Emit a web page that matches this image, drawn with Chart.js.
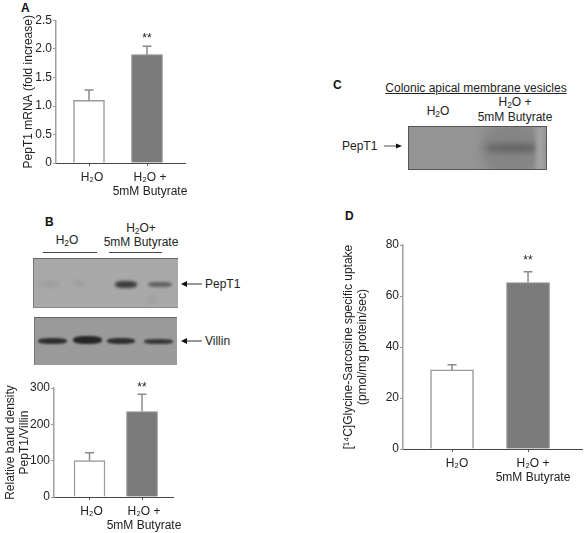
<!DOCTYPE html>
<html>
<head>
<meta charset="utf-8">
<script src="https://cdn.jsdelivr.net/npm/chart.js@4"></script>
<style>
  html, body { margin: 0; background: #fff; }
  body { width: 585px; height: 533px; position: relative; overflow: hidden;
         font-family: "Liberation Sans", Arial, sans-serif; font-size: 12px; color: #222; }
  canvas { position: absolute; }
  .t { position: absolute; white-space: nowrap; line-height: 14px; transform: translate(-50%, -50%); }
  .l { position: absolute; white-space: nowrap; line-height: 14px; transform: translateY(-50%); }
  .panel { position: absolute; font-weight: bold; font-size: 12px; color: #111; line-height: 14px; transform: translateY(-50%); }
  sub { font-size: 8.5px; line-height: 0; vertical-align: -2px; }
  .rule { position: absolute; height: 1px; background: #444; }
  .blot { position: absolute; box-sizing: border-box; overflow: hidden; }
  .band { position: absolute; border-radius: 40%; }
  svg { position: absolute; }
</style>
</head>
<body>

<div class="panel" style="left:21px;top:8px">A</div>
<div class="panel" style="left:45px;top:222px">B</div>
<div class="panel" style="left:333px;top:85px">C</div>
<div class="panel" style="left:345px;top:216px">D</div>

<canvas id="chart-a" style="left:0;top:0"></canvas>
<canvas id="chart-b" style="left:0;top:370px"></canvas>
<canvas id="chart-d" style="left:330px;top:225px"></canvas>

<!-- B: western blots -->
<div class="t" style="left:67px;top:240px">H<sub>2</sub>O</div>
<div class="t" style="left:141px;top:228px">H<sub>2</sub>O+</div>
<div class="t" style="left:141px;top:242px">5mM Butyrate</div>
<div class="rule" style="left:43px;top:252px;width:54px"></div>
<div class="rule" style="left:109px;top:252px;width:53px"></div>

<div class="blot" style="left:33px;top:258px;width:145px;height:50px;background:#a9a9a9;border-top:1px solid #666;border-left:1px solid #777;border-bottom:1px solid #888">
  <div class="band" style="left:5px;top:23px;width:20px;height:4px;background:#979797;filter:blur(2px)"></div>
  <div class="band" style="left:41px;top:22px;width:8px;height:5px;background:#979797;filter:blur(2px)"></div>
  <div class="band" style="left:81px;top:22px;width:22px;height:7px;background:#3d3d3d;filter:blur(1.5px)"></div>
  <div class="band" style="left:114px;top:23px;width:24px;height:5px;background:#5e5e5e;filter:blur(1.5px)"></div>
  <div class="band" style="left:115px;top:36px;width:6px;height:8px;background:#9d9d9d;filter:blur(2px)"></div>
</div>
<div class="blot" style="left:34px;top:317px;width:143px;height:48px;background:#9b9b9b;border-top:1px solid #666;border-left:1px solid #777">
  <div class="band" style="left:3px;top:20px;width:29px;height:6px;background:#2e2e2e;filter:blur(1px)"></div>
  <div class="band" style="left:38px;top:18px;width:29px;height:8px;background:#262626;filter:blur(1px)"></div>
  <div class="band" style="left:72px;top:20px;width:28px;height:6px;background:#2e2e2e;filter:blur(1px)"></div>
  <div class="band" style="left:109px;top:21px;width:29px;height:5px;background:#363636;filter:blur(1px)"></div>
</div>
<svg style="left:180px;top:279px" width="24" height="10"><line x1="6" y1="5" x2="22" y2="5" stroke="#333" stroke-width="1"/><path d="M1 5 L7 2 L7 8 Z" fill="#111"/></svg>
<svg style="left:180px;top:336px" width="24" height="10"><line x1="6" y1="5" x2="22" y2="5" stroke="#333" stroke-width="1"/><path d="M1 5 L7 2 L7 8 Z" fill="#111"/></svg>
<div class="l" style="left:205px;top:284px">PepT1</div>
<div class="l" style="left:205px;top:341px">Villin</div>

<!-- C: vesicle blot -->
<div class="t" style="left:476px;top:88px;text-decoration:underline">Colonic apical membrane vesicles</div>
<div class="t" style="left:438px;top:111px">H<sub>2</sub>O</div>
<div class="t" style="left:515px;top:102px">H<sub>2</sub>O +</div>
<div class="t" style="left:515px;top:117px">5mM Butyrate</div>
<div class="blot" style="left:408px;top:126px;width:139px;height:44px;background:#959595;border:1px solid #555">
  <div class="band" style="left:72px;top:-4px;width:60px;height:52px;background:#858585;filter:blur(5px)"></div>
  <div class="band" style="left:76px;top:17px;width:56px;height:8px;background:#616161;filter:blur(3px)"></div>
  <div style="position:absolute;left:127px;top:0;width:8px;height:44px;background:#a3a3a3;filter:blur(2px)"></div>
</div>
<div class="l" style="left:342px;top:146px">PepT1</div>
<svg style="left:383px;top:141px" width="20" height="10"><line x1="1" y1="5" x2="14" y2="5" stroke="#888" stroke-width="1.5"/><path d="M19 5 L13 2.5 L13 7.5 Z" fill="#111"/></svg>

<script>
// ─── Chart values ────────────────────────────────────────────────
const positions = [1, 2];
const tickNames = [["H\u2082O"], ["H\u2082O +", "5mM Butyrate"]];
const barFills = ["#ffffff", "#7a7a7a"];
const barEdges = ["#999999", "#8c8c8c"];
const stars = ["", "**"];

const mrnaValues = [1.1, 1.9];
const mrnaUpper = [1.28, 2.05];
const mrnaTicks = [0, 0.5, 1, 1.5, 2, 2.5];
const mrnaTitle = "PepT1 mRNA (fold increase)";

const densityValues = [100, 235];
const densityUpper = [122, 283];
const densityTicks = [0, 100, 200, 300];
const densityTitle = ["Relative band density", "PepT1/Villin"];

const uptakeValues = [31, 65.3];
const uptakeUpper = [33, 69.5];
const uptakeTicks = [0, 20, 40, 60, 80];
const uptakeTitle = ["[\u00b9\u2074C]Glycine-Sarcosine specific uptake", "(pmol/mg protein/sec)"];

// ─── Error bars and significance stars ───────────────────────────
const errorBars = {
    id: "errorBars",
    afterDatasetsDraw(chart, args, opts) {
        const { ctx, scales: { x, y } } = chart;
        ctx.save();
        positions.forEach((pos, i) => {
            const px = x.getPixelForValue(pos);
            const top = y.getPixelForValue(opts.upper[i]);
            const base = y.getPixelForValue(opts.values[i]);
            ctx.strokeStyle = "#8a8a8a";
            ctx.lineWidth = 1.5;
            ctx.beginPath();
            ctx.moveTo(px, base);
            ctx.lineTo(px, top);
            ctx.moveTo(px - 4.5, top);
            ctx.lineTo(px + 4.5, top);
            ctx.stroke();
            if (stars[i]) {
                ctx.fillStyle = "#222";
                ctx.font = "12px 'Liberation Sans'";
                ctx.textAlign = "center";
                ctx.textBaseline = "middle";
                ctx.fillText(stars[i], px, top - opts.starGap);
            }
        });
        ctx.restore();
    }
};

function drawPanel(id, p) {
    const canvas = document.getElementById(id);
    canvas.width = p.width;
    canvas.height = p.height;
    canvas.style.width = p.width + "px";
    canvas.style.height = p.height + "px";
    return new Chart(canvas, {
        type: "bar",
        data: {
            datasets: [{
                data: positions.map((pos, i) => ({ x: pos, y: p.values[i] })),
                backgroundColor: barFills,
                borderColor: barEdges,
                borderWidth: 1.5,
                borderSkipped: "bottom",
                barThickness: p.barWidth
            }]
        },
        options: {
            responsive: false,
            animation: false,
            layout: { padding: { top: p.top, left: p.left, right: p.right, bottom: 0 } },
            plugins: {
                legend: { display: false },
                tooltip: { enabled: false },
                errorBars: { values: p.values, upper: p.upper, starGap: p.starGap }
            },
            scales: {
                x: {
                    type: "linear",
                    offset: false,
                    min: p.xMin,
                    max: p.xMax,
                    afterBuildTicks: s => { s.ticks = positions.map(v => ({ value: v })); },
                    afterFit: s => { s.height = p.bottom; },
                    grid: { offset: false, drawOnChartArea: false, tickLength: 3, color: "#555", tickColor: "#555" },
                    border: { color: "#444", width: 1 },
                    ticks: {
                        autoSkip: false,
                        maxRotation: 0,
                        padding: 4,
                        labelOffset: p.labelShift,
                        color: "#222",
                        font: { family: "'Liberation Sans'", size: 12 },
                        callback: v => tickNames[positions.indexOf(v)]
                    }
                },
                y: {
                    min: p.ticks[0],
                    max: p.ticks[p.ticks.length - 1],
                    afterBuildTicks: s => { s.ticks = p.ticks.map(v => ({ value: v })); },
                    afterFit: s => { s.width = p.axisWidth; },
                    grid: { drawOnChartArea: false, tickLength: 3, color: "#999", tickColor: "#999" },
                    border: { color: "#a0a0a0", width: 1.5 },
                    title: {
                        display: true,
                        text: p.title,
                        color: "#222",
                        padding: 0,
                        font: { family: "'Liberation Sans'", size: 12 }
                    },
                    ticks: {
                        padding: 1,
                        color: "#222",
                        font: { family: "'Liberation Sans'", size: 12 },
                        callback: v => p.tickFixed ? v === 0 ? "0" : v.toFixed(1) : String(v)
                    }
                }
            }
        },
        plugins: [errorBars]
    });
}

drawPanel("chart-a", {
    width: 200, height: 205, top: 20.5, left: 21, right: 15, bottom: 42, axisWidth: 35,
    xMin: 0.431, xMax: 2.655, barWidth: 31, starGap: 7, labelShift: 3,
    values: mrnaValues, upper: mrnaUpper, ticks: mrnaTicks, title: mrnaTitle, tickFixed: true
});
drawPanel("chart-b", {
    width: 190, height: 163, top: 18, left: 3, right: 17, bottom: 36, axisWidth: 51,
    xMin: 0.324, xMax: 2.59, barWidth: 31, starGap: 6, labelShift: 2,
    values: densityValues, upper: densityUpper, ticks: densityTicks, title: densityTitle
});
drawPanel("chart-d", {
    width: 255, height: 290, top: 20, left: 11, right: 3, bottom: 66, axisWidth: 62,
    xMin: 0.355, xMax: 2.71, barWidth: 43, starGap: 11, labelShift: 5,
    values: uptakeValues, upper: uptakeUpper, ticks: uptakeTicks, title: uptakeTitle
});
</script>
</body>
</html>
